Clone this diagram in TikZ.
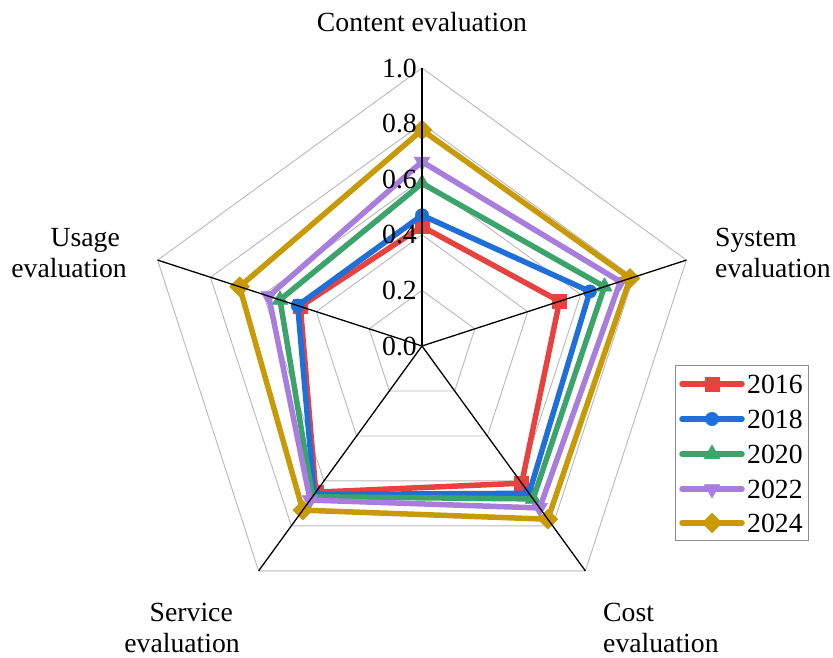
\documentclass[tikz,border=0pt]{standalone}
\usepackage{fontspec}
\setmainfont{Liberation Serif}
\usetikzlibrary{plotmarks}

\definecolor{col16}{HTML}{E8423F}
\definecolor{col18}{HTML}{1F6FDA}
\definecolor{col20}{HTML}{3AA46B}
\definecolor{col22}{HTML}{A87DDD}
\definecolor{col24}{HTML}{C99A08}

\tikzset{
  gridline/.style={draw=black!28,line width=0.9pt},
  axisline/.style={draw=black,line width=1.3pt},
  series/.style={draw=#1,line width=5.5pt,mark options={fill=#1,draw=#1,line width=0.5pt}},
  mrot/.style={every mark/.append style={rotate=#1}},
  txt/.style={font=\fontsize{27.7}{31}\selectfont,inner sep=0pt}
}

\begin{document}
\begin{tikzpicture}[x=1pt,y=1pt]
\useasboundingbox (0,0) rectangle (833,657);
\coordinate (O) at (422,311);

\begin{scope}[shift={(O)}]
  \foreach \r in {55.6,111.2,166.8,222.4,278}
    \draw[gridline] (90:\r) -- (18:\r) -- (-54:\r) -- (-126:\r) -- (162:\r) -- cycle;

  \draw[series=col16,mark=square*,mark size=7pt] plot coordinates {(90:119.5) (18:144.6) (-54:169.6) (-126:180.7) (162:127.9)} -- cycle;
  \draw[series=col18,mark=*,mark size=6.7pt] plot coordinates {(90:130.7) (18:176.5) (-54:182.1) (-126:183.5) (162:130.7)} -- cycle;
  \draw[series=col20,mark=triangle*,mark size=9pt] plot coordinates {(90:162.6) (18:191.8) (-54:189.0) (-126:186.3) (162:149.3)} -- cycle;
  \draw[series=col22,mark=triangle*,mark size=9pt,mrot=180] plot coordinates {(90:184.3) (18:208.5) (-54:200.2) (-126:190.4) (162:161.2)} -- cycle;
  \draw[series=col24,mark=square*,mark size=7pt,mrot=45] plot coordinates {(90:216.0) (18:218.8) (-54:214.1) (-126:202.9) (162:191.8)} -- cycle;

  \foreach \a/\n in {90/cont,18/syst,-54/cost,-126/serv,162/usag}
    \coordinate (ax\n) at (\a:278);
\end{scope}

\foreach \n in {cont,syst,cost,serv,usag}
  \draw[axisline] (O) -- (ax\n);

\foreach \v/\t in {0/0.0,1/0.2,2/0.4,3/0.6,4/0.8,5/1.0}
  \node[txt,anchor=east] (val\v) at (417,311+55.6*\v) {\t};

\node[txt] (lcont) at (422,635) {Content evaluation};
\node[txt,anchor=west,align=left] (lsyst) at (715,404) {System\\evaluation};
\node[txt,anchor=east,align=right] (lusag) at (127,404) {Usage\makebox[7pt]{}\\evaluation};
\node[txt,anchor=east,align=right] (lserv) at (240,29) {Service\makebox[7pt]{}\\evaluation};
\node[txt,anchor=west,align=left] (lcost) at (603,29) {Cost\\evaluation};

% legend
\draw[black!45,line width=0.9pt] (675,117) rectangle (808,292);
\foreach \y/\c/\m/\o/\s/\t in {273/col16/square*/0/7pt/2016,
                               238/col18/*/0/6.7pt/2018,
                               203/col20/triangle*/0/9pt/2020,
                               168/col22/triangle*/180/9pt/2022,
                               134/col24/square*/45/7pt/2024}{
  \draw[series=\c,line cap=round,mark=\m,mark size=\s,mrot=\o,mark indices={2}] plot coordinates {(682,\y) (712,\y) (742,\y)};
  \node[txt,anchor=west] (leg\t) at (747,\y) {\t};
}
\end{tikzpicture}
\end{document}
